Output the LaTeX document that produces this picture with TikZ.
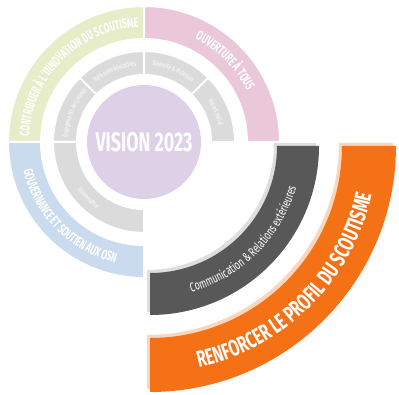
\documentclass[tikz,border=0pt]{standalone}
\usepackage{fontspec}
\usepackage{tikz}
\usetikzlibrary{calc,decorations.text}

\newfontfamily\condfont[FakeStretch=0.66]{Fira Sans}
\newfontfamily\narrowfont[FakeStretch=0.62]{Fira Sans}

\definecolor{visgreen}{RGB}{231,237,200}
\definecolor{vispink}{RGB}{234,200,218}
\definecolor{visblue}{RGB}{201,219,236}
\definecolor{visgray}{RGB}{219,219,219}
\definecolor{vislilac}{RGB}{221,208,231}
\definecolor{comgray}{RGB}{88,88,88}
\definecolor{comshade}{RGB}{222,222,222}
\definecolor{proforange}{RGB}{245,113,22}
\definecolor{profshade}{RGB}{250,214,190}

% sector: style, centre, start, end, inner radius, outer radius
\newcommand{\ringsector}[6]{%
  \path[#1] ($(#2)+(#3:#6)$) arc[start angle=#3, end angle=#4, radius=#6]
    -- ($(#2)+(#4:#5)$) arc[start angle=#4, end angle=#3, radius=#5] -- cycle;}
% label on an arc: centre, start, end, radius, format, text
\newcommand{\arclabel}[6]{%
  \path[decorate, decoration={text along path, text align=center,
    text={|#5|#6}}] ($(#1)+(#2:#4)$) arc[start angle=#2, end angle=#3, radius=#4];}

\newcommand{\axisfont}{\narrowfont\bfseries\fontsize{13.5}{13.5}\selectfont\color{white}}
\newcommand{\themefont}{\condfont\fontsize{7}{7}\selectfont\color{white}}
\newcommand{\comfont}{\condfont\fontsize{13}{13}\selectfont\color{white}}
\newcommand{\proffont}{\condfont\bfseries\fontsize{23}{23}\selectfont\color{white}}

\begin{document}
\begin{tikzpicture}[x=1pt,y=1pt,
    part/.style={fill=#1, draw=white, line width=2pt},
    shade/.style={fill=#1},
    vision/.style={font=\condfont\bfseries\fontsize{27}{27}\selectfont, text=white}]
  \useasboundingbox (0,0) rectangle (399,395);
  \coordinate (c) at (144,253);
  \coordinate (e) at (150,249);
  \coordinate (es) at ($(e)+(-3,3)$);

  % outer ring
  \ringsector{part=visgreen}{c}{90}{180}{103}{136}
  \ringsector{part=vispink}{c}{0}{90}{103}{136}
  \ringsector{part=visblue}{c}{180}{270}{103}{136}

  % middle ring
  \ringsector{part=visgray}{c}{135}{180}{67}{91}
  \ringsector{part=visgray}{c}{90}{135}{67}{91}
  \ringsector{part=visgray}{c}{45}{90}{67}{91}
  \ringsector{part=visgray}{c}{0}{45}{67}{91}
  \ringsector{part=visgray}{c}{180}{270}{67}{91}

  % centre
  \fill[vislilac] (c) circle[radius=57];
  \node[vision] (vis) at (c) {VISION 2023};

  \arclabel{c}{180}{90}{115}{\axisfont}{CONTRIBUER À L’INNOVATION DU SCOUTISME}
  \arclabel{c}{90}{0}{115}{\axisfont}{OUVERTURE À TOUS}
  \arclabel{c}{180}{270}{124}{\axisfont}{GOUVERNANCE ET SOUTIEN AUX OSN}

  \arclabel{c}{180}{135}{76.5}{\themefont}{Engagements des jeunes}
  \arclabel{c}{135}{90}{76.5}{\themefont}{Méthodes éducatives}
  \arclabel{c}{90}{45}{76.5}{\themefont}{Diversité {\&} Inclusion}
  \arclabel{c}{45}{0}{76.5}{\themefont}{Impact social}
  \arclabel{c}{180}{270}{81.5}{\themefont}{Gouvernance}

  % pulled-out quarter
  \ringsector{shade=comshade}{es}{270}{360}{127}{169}
  \ringsector{shade=comgray}{e}{270}{360}{127}{169}
  \ringsector{shade=profshade}{es}{270}{360}{192}{246}
  \ringsector{shade=proforange}{e}{270}{360}{192}{246}

  \arclabel{e}{270}{360}{152}{\comfont}{Communication {\&} Relations extérieures}
  \arclabel{e}{270}{360}{227}{\proffont}{RENFORCER LE PROFIL DU SCOUTISME}
\end{tikzpicture}
\end{document}
